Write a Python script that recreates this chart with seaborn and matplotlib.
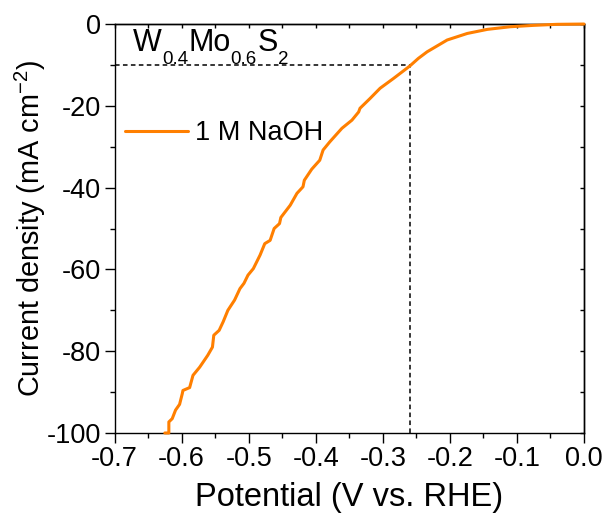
import matplotlib
matplotlib.use("Agg")
import matplotlib.pyplot as plt
import seaborn as sns
import pandas as pd

# ---- data ----
potential = [-0.625, -0.619, -0.619, -0.614, -0.609, -0.603, -0.599, -0.598, -0.588, -0.583,
             -0.573, -0.561, -0.554, -0.552, -0.544, -0.538, -0.531, -0.521, -0.513, -0.507,
             -0.501, -0.493, -0.483, -0.476, -0.468, -0.462, -0.454, -0.452, -0.438, -0.428,
             -0.419, -0.417, -0.406, -0.394, -0.389, -0.379, -0.361, -0.346, -0.336, -0.334,
             -0.319, -0.304, -0.284, -0.260, -0.247, -0.234, -0.204, -0.174, -0.144, -0.110,
             -0.075, -0.040, 0.0]
current = [-100.0, -100.0, -97.3, -96.5, -94.4, -93.0, -90.4, -89.6, -88.9, -85.9,
           -83.9, -81.0, -79.0, -76.1, -74.9, -72.8, -70.0, -67.5, -64.7, -63.4,
           -61.4, -59.8, -56.5, -53.7, -52.9, -50.0, -48.8, -47.3, -44.3, -41.4,
           -39.8, -38.2, -35.5, -33.3, -30.8, -28.8, -25.5, -23.5, -21.5, -20.6,
           -18.2, -15.7, -13.3, -10.3, -8.4, -6.8, -3.9, -2.3, -1.3, -0.66,
           -0.32, -0.07, 0.0]
series_label = "1 M NaOH"
sample_parts = [("W", False), ("0.4", True), ("Mo", False), ("0.6", True), ("S", False), ("2", True)]
ref_current = -10
ref_potential = -0.26
x_ticks = [-0.7, -0.6, -0.5, -0.4, -0.3, -0.2, -0.1, 0.0]
x_minor = [-0.65, -0.55, -0.45, -0.35, -0.25, -0.15, -0.05]
y_ticks = [-100, -80, -60, -40, -20, 0]
y_minor = [-90, -70, -50, -30, -10]

df = pd.DataFrame({"Potential": potential, "Current": current})

sns.set_theme(style="ticks")
plt.rcParams["font.family"] = ["Liberation Sans", "DejaVu Sans"]
plt.rcParams["mathtext.default"] = "regular"
plt.rcParams["axes.unicode_minus"] = False
plt.rcParams["axes.linewidth"] = 1.0
plt.rcParams["text.color"] = "black"
plt.rcParams["axes.labelcolor"] = "black"
plt.rcParams["xtick.color"] = "black"
plt.rcParams["ytick.color"] = "black"
plt.rcParams["axes.edgecolor"] = "black"

fig = plt.figure(figsize=(6.05, 5.17), dpi=100)
ax = fig.add_axes([0.1893, 0.1625, 0.7760, 0.791])

sns.lineplot(data=df, x="Potential", y="Current", ax=ax, color="#FF7F00",
             linewidth=2.2, estimator=None, sort=False, label=series_label)
for ln in ax.get_lines():
    ln.set_clip_on(False)
    ln.set_zorder(4)

# reference dashed lines
ax.plot([-0.7, ref_potential], [ref_current, ref_current], ls=(0, (3, 2.2)),
        color="black", lw=1.1, zorder=1)
ax.plot([ref_potential, ref_potential], [-100, ref_current], ls=(0, (3, 2.2)),
        color="black", lw=1.1, zorder=1)

ax.set_xlim(-0.7, 0.0)
ax.set_ylim(-100, 0)
ax.set_xticks(x_ticks)
ax.set_xticklabels([f"{t:.1f}" for t in x_ticks])
ax.set_yticks(y_ticks)
ax.set_xticks(x_minor, minor=True)
ax.set_yticks(y_minor, minor=True)
ax.tick_params(which="major", direction="out", length=7, width=1.0, labelsize=19.5,
               colors="black", labelcolor="black", pad=2.5)
ax.tick_params(which="minor", direction="out", length=3.6, width=1.0, colors="black")

for s in ax.spines.values():
    s.set_color("black")
    s.set_linewidth(1.0)

# inward ticks on top and right
top = ax.secondary_xaxis("top")
top.set_xticks(x_ticks)
top.set_xticks(x_minor, minor=True)
top.tick_params(which="both", direction="in", length=3, width=1.0, labeltop=False,
                colors="black")
right = ax.secondary_yaxis("right")
right.set_yticks(y_ticks)
right.set_yticks(y_minor, minor=True)
right.tick_params(which="both", direction="in", length=3, width=1.0, labelright=False,
                  colors="black")

ax.set_xlabel("Potential (V vs. RHE)", fontsize=23.5, labelpad=7, color="black")
ax.set_ylabel("Current density (mA cm$^{-2}$)", fontsize=20.8, labelpad=-1, color="black")

# sample label built from pieces, subscripts dropped below baseline
base_y = 0.935
prev = ax.text(0.0395, base_y, sample_parts[0][0], transform=ax.transAxes,
               fontsize=22, va="baseline", ha="left", color="black")
for txt, is_sub in sample_parts[1:]:
    if is_sub:
        prev = ax.annotate(txt, xy=(1, base_y), xycoords=(prev, ax.transAxes),
                           xytext=(0.0, -9.5), textcoords="offset points",
                           fontsize=13.5, va="baseline", ha="left", color="black")
    else:
        prev = ax.annotate(txt, xy=(1, base_y), xycoords=(prev, ax.transAxes),
                           xytext=(0.3, 0), textcoords="offset points",
                           fontsize=22, va="baseline", ha="left", color="black")

leg = ax.legend(loc="center left", bbox_to_anchor=(0.022, 0.733), frameon=False,
                fontsize=19.5, handlelength=2.33, handletextpad=0.25, borderpad=0,
                borderaxespad=0)
for t in leg.get_texts():
    t.set_color("black")

fig.savefig("out.png", dpi=100)
